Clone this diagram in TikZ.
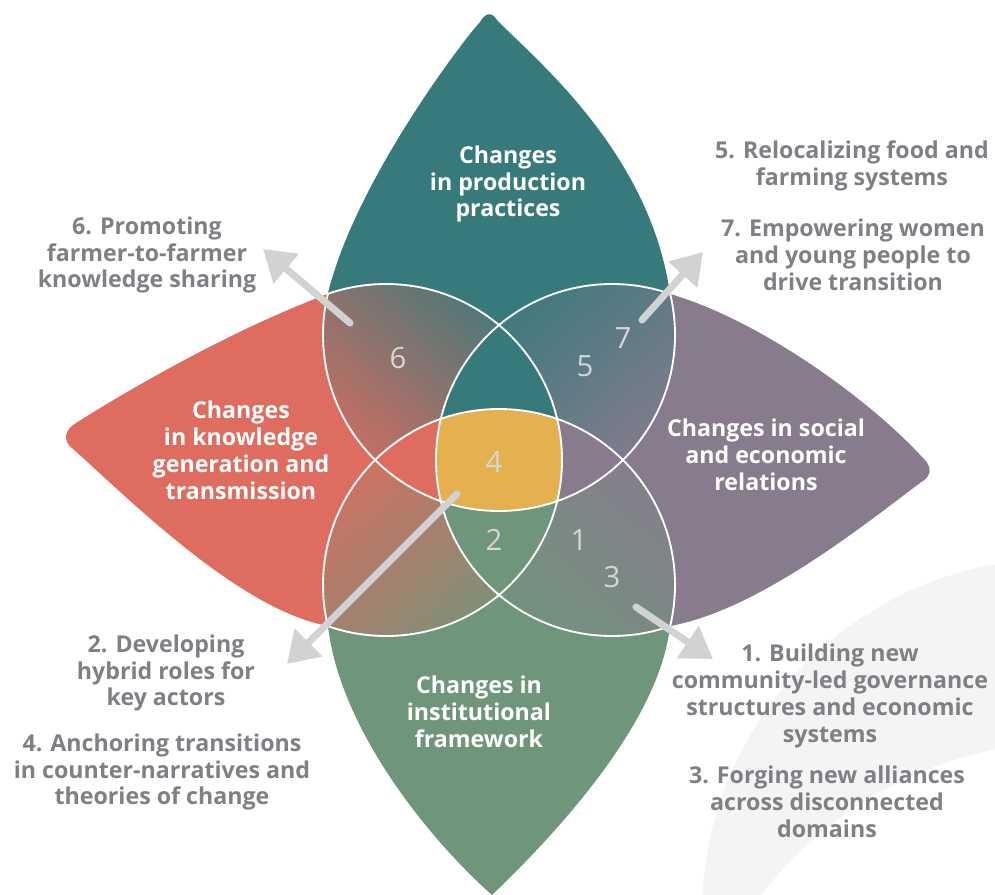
\documentclass[tikz,border=0pt]{standalone}
\usepackage{fontspec}
\setmainfont{Open Sans}
\usepackage{xcolor}
\usetikzlibrary{positioning,calc,arrows.meta}

\definecolor{prodteal}{HTML}{377A7C}
\definecolor{knowred}{HTML}{DE6C5F}
\definecolor{socpurple}{HTML}{887B8E}
\definecolor{instgreen}{HTML}{6F967B}
\definecolor{coreorange}{HTML}{E5B04E}
\definecolor{labelgray}{HTML}{7F8085}
\definecolor{pointergray}{HTML}{D1D2D4}
\definecolor{numgray}{HTML}{D6D6D8}
\definecolor{bandgray}{HTML}{F4F4F4}

\begin{document}
\begin{tikzpicture}[x=0.03cm,y=-0.03cm,
    sidetxt/.style={align=center, text=labelgray, font=\bfseries\fontsize{19.8}{23}\selectfont},
    petaltxt/.style={align=center, text=white, font=\bfseries\fontsize{19.8}{23}\selectfont},
    numtxt/.style={text=numgray, font=\fontsize{25}{30}\selectfont},
    outline/.style={draw=white, line width=1.6pt},
    pointer/.style={-{Triangle[length=26pt,width=32pt]}, pointergray, line width=6pt, line cap=round}]
			\useasboundingbox (0,0) rectangle (995,895);
			\def\radius{176}

			% faint band in the background
			\begin{scope}
				\clip (0,0) rectangle (995,895);
				\fill[bandgray, even odd rule] (1057,914) circle[radius=355] (1072,1134) circle[radius=392];
			\end{scope}

			% circle centres
			\coordinate (center) at (499,460);
			\coordinate (T) at (499,335);
			\coordinate (B) at (499,585);
			\coordinate (L) at (386,460);
			\coordinate (R) at (612,460);

			% outer crossings of neighbouring circles
			\coordinate (TL) at (328,294);
			\coordinate (TR) at (670,294);
			\coordinate (BL) at (328,626);
			\coordinate (BR) at (670,626);

			% petals
			\fill[prodteal] (TL) .. controls (352,190) and (455,50) .. (480,22) .. controls (486,12) and (492,12) .. (497,20) .. controls (530,55) and (650,150) .. (TR) -- (center) -- cycle;
			\fill[prodteal] (T) circle[radius=\radius];
			\fill[socpurple] (TR) .. controls (760,320) and (870,400) .. (922,457) .. controls (933,467) and (932,476) .. (920,483) .. controls (870,520) and (760,610) .. (BR) -- (center) -- cycle;
			\fill[socpurple] (R) circle[radius=\radius];
			\fill[instgreen] (BL) .. controls (340,730) and (430,840) .. (492,895) .. controls (560,830) and (660,720) .. (BR) -- (center) -- cycle;
			\fill[instgreen] (B) circle[radius=\radius];
			\fill[knowred] (TL) .. controls (230,330) and (120,395) .. (76,423) .. controls (64,430) and (63,441) .. (72,448) .. controls (130,500) and (240,610) .. (BL) -- (center) -- cycle;
			\fill[knowred] (L) circle[radius=\radius];

			% lenses of two circles
			\begin{scope}
				\clip (T) circle[radius=\radius];
				\clip (L) circle[radius=\radius];
				\shade[top color=prodteal, bottom color=knowred, shading angle=-42] (442.5,397.5) +(-130,-130) rectangle +(130,130);
			\end{scope}
			\begin{scope}
				\clip (T) circle[radius=\radius];
				\clip (R) circle[radius=\radius];
				\shade[top color=prodteal, bottom color=socpurple, shading angle=42] (555.5,397.5) +(-120,-120) rectangle +(120,120);
			\end{scope}
			\begin{scope}
				\clip (B) circle[radius=\radius];
				\clip (L) circle[radius=\radius];
				\shade[top color=knowred, bottom color=instgreen, shading angle=42] (442.5,522.5) +(-130,-130) rectangle +(130,130);
			\end{scope}
			\begin{scope}
				\clip (B) circle[radius=\radius];
				\clip (R) circle[radius=\radius];
				\shade[top color=socpurple, bottom color=instgreen, shading angle=-42] (555.5,522.5) +(-130,-130) rectangle +(130,130);
			\end{scope}

			% parts of three circles
			\begin{scope}
				\clip (L) circle[radius=\radius];
				\clip (R) circle[radius=\radius];
				\fill[prodteal] (T) circle[radius=\radius];
				\fill[instgreen] (B) circle[radius=\radius];
			\end{scope}
			\begin{scope}
				\clip (T) circle[radius=\radius];
				\clip (B) circle[radius=\radius];
				\fill[knowred] (L) circle[radius=\radius];
				\fill[socpurple] (R) circle[radius=\radius];
			\end{scope}

			% core of all four
			\begin{scope}
				\clip (T) circle[radius=\radius];
				\clip (B) circle[radius=\radius];
				\clip (L) circle[radius=\radius];
				\fill[coreorange] (R) circle[radius=\radius];
			\end{scope}

			% white rims where circles overlap
			\begin{scope}
				\clip (L) circle[radius=\radius] (R) circle[radius=\radius] (B) circle[radius=\radius];
				\draw[outline] (T) circle[radius=\radius];
			\end{scope}
			\begin{scope}
				\clip (L) circle[radius=\radius] (R) circle[radius=\radius] (T) circle[radius=\radius];
				\draw[outline] (B) circle[radius=\radius];
			\end{scope}
			\begin{scope}
				\clip (T) circle[radius=\radius] (R) circle[radius=\radius] (B) circle[radius=\radius];
				\draw[outline] (L) circle[radius=\radius];
			\end{scope}
			\begin{scope}
				\clip (T) circle[radius=\radius] (L) circle[radius=\radius] (B) circle[radius=\radius];
				\draw[outline] (R) circle[radius=\radius];
			\end{scope}

			% petal titles
			\node[petaltxt] (prod) at (508,184) {Changes\\in production\\practices};
			\node[petaltxt] (know) at (241,450) {Changes\\in knowledge\\generation and\\transmission};
			\node[petaltxt] (soc) at (766,455) {Changes in social\\and economic\\relations};
			\node[petaltxt] (inst) at (479,712) {Changes in\\institutional\\framework};

			% numbers
			\node[numtxt] (n6) at (398,358) {6};
			\node[numtxt] (n5) at (585,366) {5};
			\node[numtxt] (n7) at (623,338) {7};
			\node[numtxt] (n4) at (494,462) {4};
			\node[numtxt] (n2) at (494,540) {2};
			\node[numtxt] (n1) at (579,540) {1};
			\node[numtxt] (n3) at (612,577) {3};

			% labels around
			\node[sidetxt] (lab6) at (147,255) {6. Promoting\\farmer-to-farmer\\knowledge sharing};
			\node[sidetxt] (lab5) at (852,166) {5. Relocalizing food and\\farming systems};
			\node[sidetxt] (lab7) at (853,255) {7. Empowering women\\and young people to\\drive transition};
			\node[sidetxt] (lab2) at (166,673) {2. Developing\\hybrid roles for\\key actors};
			\node[sidetxt] (lab4) at (162,772) {4. Anchoring transitions\\in counter-narratives and\\theories of change};
			\node[sidetxt] (lab1) at (830,696) {1. Building new\\community-led governance\\structures and economic\\systems};
			\node[sidetxt] (lab3) at (827,802) {3. Forging new alliances\\across disconnected\\domains};

			% pointers
			\coordinate (p6s) at (350,323);
			\coordinate (p6e) at (263,249);
			\coordinate (p7s) at (642,320);
			\coordinate (p7e) at (703,252);
			\coordinate (p2s) at (457,494);
			\coordinate (p2e) at (287,664);
			\coordinate (p3s) at (636,607);
			\coordinate (p3e) at (713,659);
			\draw[pointer] (p6s) -- (p6e);
			\draw[pointer] (p7s) -- (p7e);
			\draw[pointer] (p2s) -- (p2e);
			\draw[pointer] (p3s) -- (p3e);

		\end{tikzpicture}
\end{document}
